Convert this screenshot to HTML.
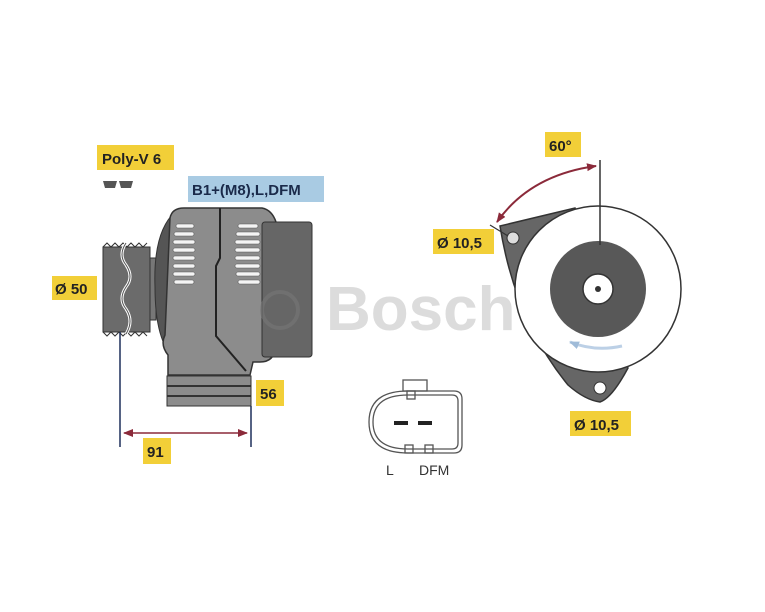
<!DOCTYPE html>
<html><head><meta charset="utf-8"><style>
body{margin:0;background:#fff}
svg{display:block}
text{font-family:"Liberation Sans",Arial,sans-serif;font-weight:bold}
</style></head><body>
<svg width="765" height="612" viewBox="0 0 765 612" xmlns="http://www.w3.org/2000/svg">
<rect width="765" height="612" fill="#fff"/>
<defs>
<marker id="ar" markerWidth="10" markerHeight="10" refX="9" refY="5" orient="auto-start-reverse" markerUnits="userSpaceOnUse"><path d="M0,1 L10,5 L0,9 z" fill="#8b2a3a"/></marker>
<marker id="ab" markerWidth="10" markerHeight="10" refX="9" refY="5" orient="auto" markerUnits="userSpaceOnUse"><path d="M0,1 L10,5 L0,9 z" fill="#9fbbd8"/></marker>
</defs>
<text x="326" y="330" font-size="62" fill="#dcdcdc">Bosch</text>
<rect x="97" y="145" width="77" height="25" fill="#f2cf38"/>
<text x="102" y="164" font-size="15" fill="#222">Poly-V 6</text>
<path d="M103,181 h14 l-2,7 h-10z M119,181 h14 l-2,7 h-10z" fill="#555"/>
<rect x="188" y="176" width="136" height="26" fill="#a9cbe3"/>
<text x="192" y="195" font-size="15" fill="#1a2a4a">B1+(M8),L,DFM</text>
<rect x="52" y="276" width="45" height="24" fill="#f2cf38"/>
<text x="55" y="294" font-size="15" fill="#222">Ø 50</text>
<rect x="256" y="380" width="28" height="26" fill="#f2cf38"/>
<text x="260" y="399" font-size="15" fill="#222">56</text>
<rect x="143" y="438" width="28" height="26" fill="#f2cf38"/>
<text x="147" y="457" font-size="15" fill="#222">91</text>
<rect x="545" y="132" width="36" height="25" fill="#f2cf38"/>
<text x="549" y="151" font-size="15" fill="#222">60°</text>
<rect x="433" y="229" width="61" height="25" fill="#f2cf38"/>
<text x="437" y="248" font-size="15" fill="#222">Ø 10,5</text>
<rect x="570" y="411" width="61" height="25" fill="#f2cf38"/>
<text x="574" y="430" font-size="15" fill="#222">Ø 10,5</text>
<rect x="103" y="247" width="47" height="85" fill="#6b6b6b" stroke="#333"/>
<path d="M103,247 l4,-4 4,4 4,-4 4,4 4,-4 4,4 4,-4 4,4 4,-4 4,4 4,-4 M103,332 l4,4 4,-4 4,4 4,-4 4,4 4,-4 4,4 4,-4 4,4 4,-4 4,4" stroke="#333" fill="none"/>
<path d="M126,243 q-8,12 0,22 q8,12 0,22 q-8,12 0,22 q8,12 0,25" stroke="#fff" stroke-width="3" fill="none"/>
<path d="M126,243 q-8,12 0,22 q8,12 0,22 q-8,12 0,22 q8,12 0,25" stroke="#555" stroke-width="1" fill="none"/>
<rect x="150" y="258" width="6" height="62" fill="#777" stroke="#333"/>
<path d="M175,212 q-22,20 -20,75 q0,55 20,72 z" fill="#555" stroke="#333"/>
<path d="M170,218 q2,-10 14,-10 h78 q10,2 14,14 v125 q-2,15 -16,15 h-7 l-3,13 h-82 v-20 q-8,-10 -3,-20 z" fill="#8c8c8c" stroke="#333" stroke-width="1.5"/>
<rect x="262" y="222" width="50" height="135" rx="3" fill="#666" stroke="#333"/>
<path d="M220,208 v50 l-4,8 v70 l30,35" stroke="#222" stroke-width="2" fill="none"/>
<rect x="167" y="376" width="84" height="30" fill="#8c8c8c" stroke="#333"/>
<line x1="167" y1="386" x2="251" y2="386" stroke="#333" stroke-width="2"/>
<line x1="167" y1="396" x2="251" y2="396" stroke="#333" stroke-width="2"/>
<g fill="#f4f4f4" stroke="#555" stroke-width="0.6">
<rect x="176" y="224" width="18" height="4" rx="2"/><rect x="174" y="232" width="20" height="4" rx="2"/><rect x="173" y="240" width="22" height="4" rx="2"/><rect x="173" y="248" width="22" height="4" rx="2"/><rect x="173" y="256" width="22" height="4" rx="2"/><rect x="173" y="264" width="22" height="4" rx="2"/><rect x="173" y="272" width="22" height="4" rx="2"/><rect x="174" y="280" width="20" height="4" rx="2"/>
<rect x="238" y="224" width="20" height="4" rx="2"/><rect x="236" y="232" width="24" height="4" rx="2"/><rect x="235" y="240" width="25" height="4" rx="2"/><rect x="235" y="248" width="25" height="4" rx="2"/><rect x="235" y="256" width="25" height="4" rx="2"/><rect x="235" y="264" width="25" height="4" rx="2"/><rect x="236" y="272" width="24" height="4" rx="2"/><rect x="238" y="280" width="22" height="4" rx="2"/>
</g>
<circle cx="280" cy="310" r="18" fill="none" stroke="#777" stroke-width="4" opacity="0.6"/>
<line x1="120" y1="332" x2="120" y2="447" stroke="#1d2f5a" stroke-width="1.5"/>
<line x1="251" y1="406" x2="251" y2="447" stroke="#1d2f5a" stroke-width="1.5"/>
<line x1="124" y1="433" x2="247" y2="433" stroke="#8b2a3a" stroke-width="1.5" marker-start="url(#ar)" marker-end="url(#ar)"/>
<g fill="none" stroke="#555" stroke-width="1.3">
<path d="M408,391 q-39,0 -39,31 q0,31 39,31 h46 q8,0 8,-8 v-46 q0,-8 -8,-8z"/>
<path d="M408,395 q-35,0 -35,27 q0,27 35,27 h44 q6,0 6,-6 v-42 q0,-6 -6,-6z"/>
<rect x="403" y="380" width="24" height="11"/>
<rect x="407" y="391" width="8" height="8"/>
<rect x="405" y="445" width="8" height="8"/><rect x="425" y="445" width="8" height="8"/>
</g>
<rect x="394" y="421" width="14" height="4" fill="#222"/><rect x="418" y="421" width="14" height="4" fill="#222"/>
<text x="386" y="475" font-size="14" fill="#333" style="font-weight:normal">L</text>
<text x="419" y="475" font-size="14" fill="#333" style="font-weight:normal">DFM</text>
<path d="M500,226 L575,208 L628,368 Q612,398 600,402 Q585,400 568,385 Q515,320 500,226 Z" fill="#666" stroke="#333" stroke-width="1.5"/>
<circle cx="598" cy="289" r="83" fill="#fff" stroke="#333" stroke-width="1.5"/>
<circle cx="598" cy="289" r="48" fill="#585858"/>
<circle cx="598" cy="289" r="15" fill="#fff" stroke="#333" stroke-width="1.5"/>
<circle cx="598" cy="289" r="3" fill="#333"/>
<circle cx="513" cy="238" r="6" fill="#ddd" stroke="#333"/>
<circle cx="600" cy="388" r="6" fill="#fff" stroke="#333"/>
<line x1="600" y1="160" x2="600" y2="245" stroke="#333" stroke-width="1.5"/>
<line x1="490" y1="225" x2="508" y2="236" stroke="#333" stroke-width="1.2"/>
<path d="M596,166 Q530,175 497,222" fill="none" stroke="#8b2a3a" stroke-width="2" marker-start="url(#ar)" marker-end="url(#ar)"/>
<path d="M622,346 Q595,352 570,342" fill="none" stroke="#bcd0e6" stroke-width="3" marker-end="url(#ab)"/>
</svg>
</body></html>
